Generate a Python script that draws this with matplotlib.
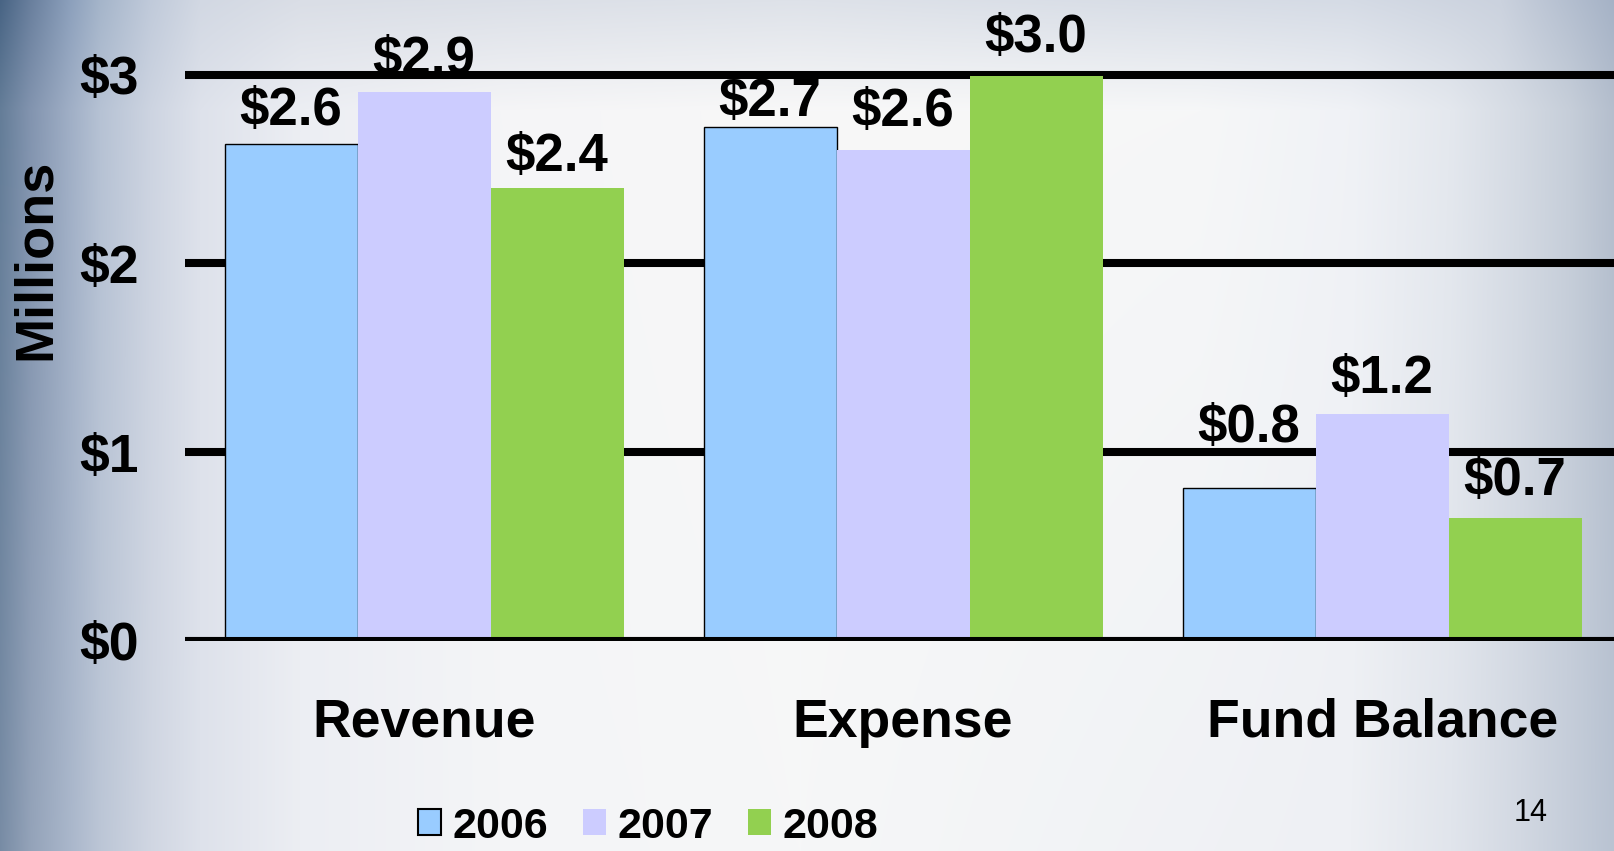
import numpy as np
import matplotlib
matplotlib.use("Agg")
import matplotlib.pyplot as plt
from matplotlib.patches import Patch

# ---- data ----
categories = ["Revenue", "Expense", "Fund Balance"]
years = ["2006", "2007", "2008"]
values_2006 = [2.63, 2.72, 0.81]
values_2007 = [2.91, 2.60, 1.20]
values_2008 = [2.40, 2.99, 0.65]
labels_2006 = ["$2.6", "$2.7", "$0.8"]
labels_2007 = ["$2.9", "$2.6", "$1.2"]
labels_2008 = ["$2.4", "$3.0", "$0.7"]
ytick_values = [0, 1, 2, 3]
ytick_labels = ["$0", "$1", "$2", "$3"]

# ---- style ----
series = [values_2006, values_2007, values_2008]
series_labels = [labels_2006, labels_2007, labels_2008]
colors = ["#99CCFF", "#CCCCFF", "#92D050"]
edgecolors = ["black", "none", "none"]
label_dy = [[19, 11, 46], [18, 24, 21], [17, 24, 23]]  # pixels above bar top (baseline)

W, H = 1614, 851
fig = plt.figure(figsize=(W / 100, H / 100), dpi=100)
plt.rcParams["font.family"] = ["Liberation Sans", "DejaVu Sans"]

# background gradient
def profile(stops):
    xs = np.array([s[0] for s in stops], float)
    cs = np.array([s[1] for s in stops], float)
    xx = np.arange(W)
    return np.stack([np.interp(xx, xs, cs[:, k]) for k in range(3)], axis=1)

top = profile([(0, (72, 100, 132)), (30, (105, 127, 157)), (70, (140, 160, 188)),
               (100, (165, 181, 202)), (150, (192, 202, 218)), (200, (210, 216, 227)),
               (300, (218, 222, 230)), (800, (222, 226, 233)), (1350, (213, 219, 229)),
               (1500, (203, 210, 222)), (1614, (165, 178, 198))])
mid = profile([(0, (100, 125, 152)), (30, (130, 148, 175)), (70, (160, 175, 198)),
               (100, (182, 194, 212)), (150, (205, 212, 225)), (200, (222, 226, 235)),
               (300, (236, 238, 243)), (500, (245, 245, 247)), (800, (248, 248, 248)),
               (1200, (246, 247, 248)), (1350, (240, 242, 246)), (1450, (228, 232, 238)),
               (1520, (212, 218, 227)), (1570, (198, 206, 217)), (1614, (180, 190, 205))])
bot = profile([(0, (120, 140, 165)), (30, (148, 163, 185)), (70, (170, 183, 203)),
               (100, (188, 198, 214)), (150, (208, 214, 226)), (200, (222, 226, 235)),
               (300, (236, 238, 243)), (500, (244, 245, 247)), (800, (246, 247, 248)),
               (1350, (238, 240, 244)), (1450, (225, 229, 236)), (1520, (210, 216, 226)),
               (1614, (185, 195, 210))])
yy = np.arange(H)[:, None, None]
t1 = np.clip(yy / 110.0, 0, 1)
t2 = np.clip((yy - 110) / (H - 110.0), 0, 1)
img = np.where(yy < 110, top[None] * (1 - t1) + mid[None] * t1,
               mid[None] * (1 - t2) + bot[None] * t2)
bgax = fig.add_axes([0, 0, 1, 1], zorder=-10)
bgax.imshow(img.astype(np.uint8), aspect="auto", extent=(0, 1, 0, 1))
bgax.axis("off")

# main axes
ax = fig.add_axes([185 / W, (H - 641) / H, 1 - 185 / W, 641 / H])
ax.patch.set_alpha(0)
x = np.arange(len(categories))
w = 133 / 479
for i, (vals, labs) in enumerate(zip(series, series_labels)):
    pos = x + (i - 1) * w
    ax.bar(pos, vals, w, color=colors[i], edgecolor=edgecolors[i],
           linewidth=1.0 if edgecolors[i] != "none" else 0, zorder=2, label=years[i])
    for j, (p, v, s) in enumerate(zip(pos, vals, labs)):
        ax.annotate(s, (p, v), xytext=(0, label_dy[i][j]), textcoords="offset pixels",
                    ha="center", va="baseline", fontsize=38, fontweight="bold",
                    annotation_clip=False, zorder=3)

ax.set_xlim(-0.499, 2.484)
ax.set_ylim(0, 641 / 188.8)
ax.set_yticks(ytick_values)
ax.set_yticklabels(ytick_labels, fontsize=38.5, fontweight="bold")
ax.set_xticks(x)
ax.set_xticklabels(categories, fontsize=38.5, fontweight="bold")
ax.tick_params(axis="y", length=0, pad=33)
ax.tick_params(axis="x", length=0, pad=41)
ax.yaxis.grid(True, color="black", linewidth=5.8)
ax.set_axisbelow(True)
ax.axhline(0, color="black", linewidth=5.8, zorder=2.5)
for sp in ax.spines.values():
    sp.set_visible(False)

fig.text(35.5 / W, 1 - 259.5 / H, "Millions", rotation=90, ha="center", va="center",
         fontsize=39, fontweight="bold")

handles = [Patch(facecolor=colors[i], edgecolor=edgecolors[i],
                 linewidth=1.5 if edgecolors[i] != "none" else 0) for i in range(3)]
leg = fig.legend(handles, years, loc="center", bbox_to_anchor=(648 / W, (H - 826.5) / H),
                 ncol=3, frameon=False, handlelength=0.55, handleheight=0.55,
                 handletextpad=0.26, columnspacing=0.8, borderpad=0,
                 prop={"size": 31, "weight": "bold"})

fig.text(1531 / W, 1 - 813 / H, "14", ha="center", va="center", fontsize=22)

fig.savefig("out.png", dpi=100)
